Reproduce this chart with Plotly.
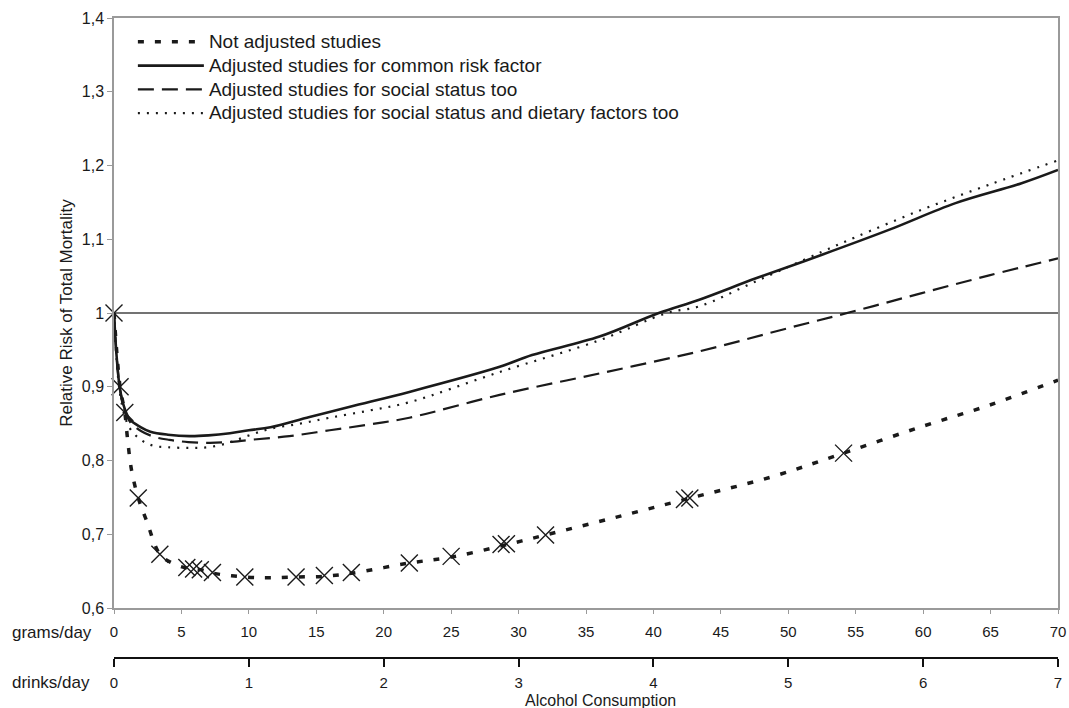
import plotly.graph_objects as go

# ---- data ----
ref_x = [0, 70]
ref_y = [1.0, 1.0]

common_x = [0, 0.2, 0.45, 0.8, 1.2, 2, 2.7, 4, 5.6, 7, 8.6, 10, 11.6, 14.5, 17.5, 21.9,
            28.6, 31, 36, 40.4, 43.4, 47.6, 52.5, 57.5, 62.4, 67.3, 70]
common_y = [1.0, 0.94, 0.896, 0.87, 0.855, 0.845, 0.839, 0.835, 0.833, 0.834, 0.837, 0.841,
            0.845, 0.859, 0.873, 0.893, 0.927, 0.943, 0.968, 1.0, 1.018, 1.047, 1.079,
            1.113, 1.149, 1.176, 1.194]

social_x = [0, 0.2, 0.45, 0.8, 1.2, 2, 3, 4.1, 5.5, 7.1, 8.5, 10.1, 13.0, 16.0, 19.0, 21.9,
            28.6, 36, 43.4, 50.1, 55, 59.9, 64.9, 70]
social_y = [1.0, 0.94, 0.896, 0.868, 0.852, 0.84, 0.832, 0.828, 0.825, 0.824, 0.825, 0.828,
            0.833, 0.841, 0.849, 0.858, 0.889, 0.918, 0.948, 0.980, 1.003, 1.027, 1.051, 1.074]

diet_x = [0, 0.2, 0.45, 0.8, 1.2, 2, 2.9, 4, 5.6, 7, 8.5, 10, 11.6, 13.8, 16, 19, 21.9,
          28.6, 36, 41, 43.4, 47.6, 52.5, 55, 59.9, 64.9, 70]
diet_y = [1.0, 0.935, 0.89, 0.86, 0.843, 0.828, 0.82, 0.818, 0.817, 0.818, 0.824, 0.834,
          0.843, 0.85, 0.858, 0.868, 0.879, 0.92, 0.963, 1.0, 1.009, 1.043, 1.083, 1.103,
          1.14, 1.174, 1.207]

notadj_x = [0, 0.45, 0.8, 1.0, 1.3, 1.8, 2.4, 3.4, 4.3, 5.4, 6.4, 7.4, 9.7, 11.5, 13.5, 15.6,
            17.6, 21.9, 25.0, 28.9, 32.0, 37, 42.5, 48.8, 54.1, 59.9, 64.9, 70]
notadj_y = [1.0, 0.9, 0.865, 0.83, 0.787, 0.749, 0.719, 0.673, 0.661, 0.654, 0.652, 0.647,
            0.642, 0.641, 0.642, 0.643, 0.647, 0.661, 0.669, 0.685, 0.699, 0.722, 0.748,
            0.778, 0.810, 0.846, 0.875, 0.909]

study_x = [0, 0.45, 0.8, 1.8, 3.4, 5.4, 5.9, 6.4, 7.3, 9.7, 13.5, 15.6, 17.6, 21.9, 25.0,
           28.7, 29.1, 32.0, 42.3, 42.7, 54.1]
study_y = [1.0, 0.9, 0.865, 0.749, 0.673, 0.655, 0.653, 0.652, 0.648, 0.642, 0.642, 0.644,
           0.648, 0.661, 0.670, 0.686, 0.687, 0.699, 0.747, 0.749, 0.810]

grams_ticks = list(range(0, 75, 5))
drinks_ticks = list(range(0, 8))
y_ticks = [0.6, 0.7, 0.8, 0.9, 1.0, 1.1, 1.2, 1.3, 1.4]
y_ticktext = ["0,6", "0,7", "0,8", "0,9", "1", "1,1", "1,2", "1,3", "1,4"]

names = ["Not adjusted studies",
         "Adjusted studies for common risk factor",
         "Adjusted studies for social status too",
         "Adjusted studies for social status and dietary factors too"]

FONT = "Liberation Sans, Arial, sans-serif"
INK = "#1a1a1a"


def big(t):
    return '<span style="font-size:19px">' + t + '</span>'


fig = go.Figure()

fig.add_trace(go.Scatter(x=ref_x, y=ref_y, mode="lines", showlegend=False,
                         line=dict(color="#444444", width=1.5), hoverinfo="skip"))

fig.add_trace(go.Scatter(x=notadj_x, y=notadj_y, mode="lines", name=big(names[0]),
                         line=dict(color=INK, width=3.5, dash="6px,11px", shape="spline"),
                         legendrank=1))
fig.add_trace(go.Scatter(x=study_x, y=study_y, mode="markers", showlegend=False,
                         cliponaxis=False,
                         marker=dict(symbol="x-thin-open", size=17, color=INK,
                                     line=dict(width=1.4, color=INK))))

fig.add_trace(go.Scatter(x=common_x, y=common_y, mode="lines", name=big(names[1]),
                         line=dict(color=INK, width=2.6, shape="spline"), legendrank=2))
fig.add_trace(go.Scatter(x=social_x, y=social_y, mode="lines", name=big(names[2]),
                         line=dict(color=INK, width=2.2, dash="16px,8px", shape="spline"),
                         legendrank=3))
fig.add_trace(go.Scatter(x=diet_x, y=diet_y, mode="lines", name=big(names[3]),
                         line=dict(color=INK, width=2.2, dash="2px,7px", shape="spline"),
                         legendrank=4))

# drinks/day axis carrier (invisible)
fig.add_trace(go.Scatter(x=[drinks_ticks[0], drinks_ticks[-1]], y=[None, None], xaxis="x2",
                         mode="lines", showlegend=False, hoverinfo="skip"))

H = 708
b = 0
TOP = 18
plot_h = H - TOP - b
y_dom0 = (H - b - 608) / plot_h
x2_pos = (H - b - 658) / plot_h

fig.update_layout(
    width=1069, height=708,
    margin=dict(l=114, r=11, t=TOP, b=b, autoexpand=False),
    paper_bgcolor="white", plot_bgcolor="white",
    font=dict(family=FONT, color=INK, size=15),
    showlegend=True,
    legend=dict(x=0.02, y=0.99, xanchor="left", yanchor="top",
                font=dict(size=16, family=FONT, color=INK),
                bgcolor="rgba(0,0,0,0)", borderwidth=0, tracegroupgap=0,
                itemwidth=66),
    xaxis=dict(range=[0, 70], tickvals=grams_ticks, showgrid=False, zeroline=False,
               showline=True, linecolor="#9a9a9a", linewidth=1.5, mirror=True,
               ticks="outside", ticklen=4, tickcolor="#9a9a9a", tickwidth=1,
               tickfont=dict(size=15), ticklabelstandoff=5, anchor="y", automargin=False),
    xaxis2=dict(range=[0, 7], tickvals=drinks_ticks, overlaying="x", anchor="free",
                position=x2_pos, side="bottom", showgrid=False, zeroline=False,
                showline=True, linecolor="#111111", linewidth=2,
                ticks="outside", ticklen=8, tickcolor="#111111", tickwidth=2,
                tickfont=dict(size=15), ticklabelstandoff=3, automargin=False),
    yaxis=dict(range=[0.6, 1.4], domain=[y_dom0, 1], tickvals=y_ticks, ticktext=y_ticktext,
               showgrid=False, zeroline=False, showline=True, linecolor="#9a9a9a",
               linewidth=1.5, mirror=True, ticks="outside", ticklen=5,
               tickcolor="#9a9a9a", tickfont=dict(size=16), automargin=False,
               title=dict(text="Relative Risk of Total Mortality", font=dict(size=17),
                          standoff=5)),
    annotations=[
        dict(text="grams/day", xref="paper", yref="paper", x=(10 - 114) / 944,
             y=(H - b - 632) / plot_h, xanchor="left", yanchor="middle",
             showarrow=False, font=dict(size=17)),
        dict(text="drinks/day", xref="paper", yref="paper", x=(10 - 114) / 944,
             y=(H - b - 682) / plot_h, xanchor="left", yanchor="middle",
             showarrow=False, font=dict(size=17)),
        dict(text="Alcohol Consumption", xref="paper", yref="paper", x=(600 - 114) / 944,
             y=(H - b - 700) / plot_h, xanchor="center", yanchor="middle",
             showarrow=False, font=dict(size=16)),
    ],
)

fig.write_html("out.html", config={"displayModeBar": False},
               post_script="document.body.style.margin='0';")
